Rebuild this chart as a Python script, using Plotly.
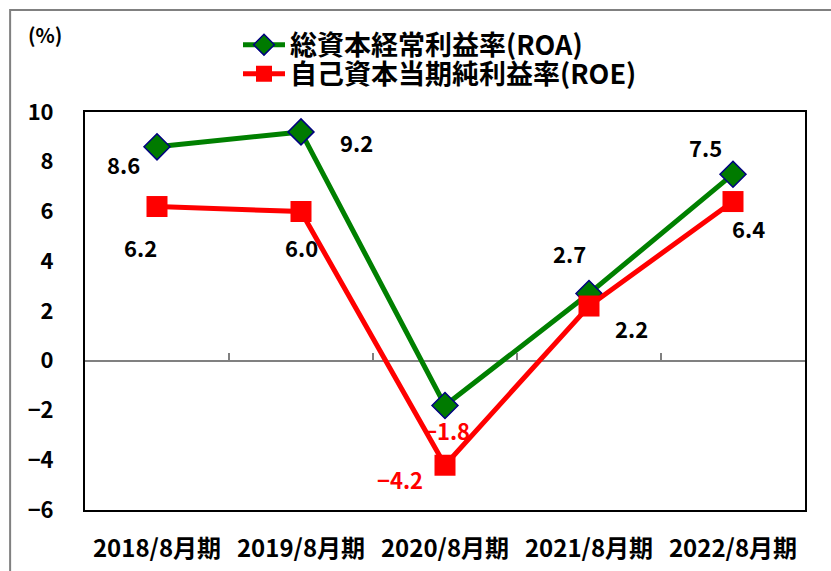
import plotly.graph_objects as go

categories = ["2018/8月期", "2019/8月期", "2020/8月期", "2021/8月期", "2022/8月期"]
roa = [8.6, 9.2, -1.8, 2.7, 7.5]
roe = [6.2, 6.0, -4.2, 2.2, 6.4]
roa_name = "総資本経常利益率(ROA)"
roe_name = "自己資本当期純利益率(ROE)"
y_ticks = [-6, -4, -2, 0, 2, 4, 6, 8, 10]
y_min, y_max = -6, 10

# label offsets in pixels (style)
roa_off = [(-34, -17), (55, -10), (2, -24), (-20, 41), (-28, 27)]
roe_off = [(-17, -40), (0, -35), (-45, -14), (42, -22), (15, -26)]

FONT = "Noto Sans CJK JP"
GREEN = "#008000"
RED = "#FF0000"

fig = go.Figure()
fig.add_trace(go.Scatter(
    x=categories, y=roa, mode="lines+markers", name=roa_name, legend="legend",
    line=dict(color=GREEN, width=5),
    marker=dict(symbol="diamond", size=20, color="#007A00",
                line=dict(color="#000080", width=1.5)),
))
fig.add_trace(go.Scatter(
    x=categories, y=roe, mode="lines+markers", name=roe_name, legend="legend2",
    line=dict(color=RED, width=5),
    marker=dict(symbol="square", size=21, color=RED,
                line=dict(color=RED, width=0)),
))
# invisible helper trace for the category-boundary ticks on the zero line
fig.add_trace(go.Scatter(
    x=list(range(len(categories))), y=roa, xaxis="x2", mode="markers",
    marker=dict(opacity=0), showlegend=False, hoverinfo="skip",
))

annotations = []
for vals, offs in ((roa, roa_off), (roe, roe_off)):
    for c, v, (dx, dy) in zip(categories, vals, offs):
        annotations.append(dict(
            x=c, y=v, xref="x", yref="y", text=f"{v:.1f}".replace("-", "−"),
            showarrow=False, xshift=dx, yshift=dy,
            font=dict(family=FONT, size=22, weight="bold",
                      color=RED if v < 0 else "black"),
        ))
annotations.append(dict(
    x=-0.056, y=1.195, xref="paper", yref="paper", text="(%)",
    xanchor="center", yanchor="middle",
    showarrow=False, font=dict(family=FONT, size=20, weight="bold", color="black"),
))

legend_font = dict(family=FONT, size=27, weight="bold", color="black")
fig.update_layout(
    width=831, height=571,
    margin=dict(l=85, r=26, t=112, b=61, autoexpand=False),
    paper_bgcolor="white", plot_bgcolor="white",
    showlegend=True,
    legend=dict(x=0.2125, y=1.168, xanchor="left", yanchor="middle", itemwidth=42,
                font=legend_font, bgcolor="rgba(0,0,0,0)"),
    legend2=dict(x=0.2125, y=1.095, xanchor="left", yanchor="middle", itemwidth=42,
                 font=legend_font, bgcolor="rgba(0,0,0,0)"),
    xaxis=dict(type="category", range=[-0.5, len(categories) - 0.5],
               showline=True, mirror=True, linecolor="black", linewidth=2,
               showgrid=False, ticks="", ticklabelstandoff=16, automargin=False,
               tickfont=dict(family=FONT, size=24, weight="bold", color="black")),
    xaxis2=dict(overlaying="x", anchor="free",
                position=(0 - y_min) / (y_max - y_min),
                range=[-0.5, len(categories) - 0.5],
                tickvals=[i + 0.5 for i in range(len(categories) - 1)],
                ticks="inside", ticklen=8, tickwidth=2, tickcolor="#808080",
                showticklabels=False, showgrid=False, showline=False, zeroline=False,
                automargin=False),
    yaxis=dict(range=[y_min, y_max], tickvals=y_ticks,
               showline=True, mirror=True, linecolor="black", linewidth=2,
               showgrid=False, zeroline=True, zerolinecolor="#808080", zerolinewidth=2,
               ticks="", ticklabelstandoff=25, automargin=False,
               tickfont=dict(family=FONT, size=22, weight="bold", color="black")),
    annotations=annotations,
    shapes=[dict(type="rect", xref="paper", yref="paper",
                 x0=-0.104, x1=1.042, y0=-0.2, y1=1.256,
                 line=dict(color="#808080", width=2), layer="below")],
)

fig.write_html("out.html", config={"displayModeBar": False},
               post_script="document.body.style.margin='0';")
